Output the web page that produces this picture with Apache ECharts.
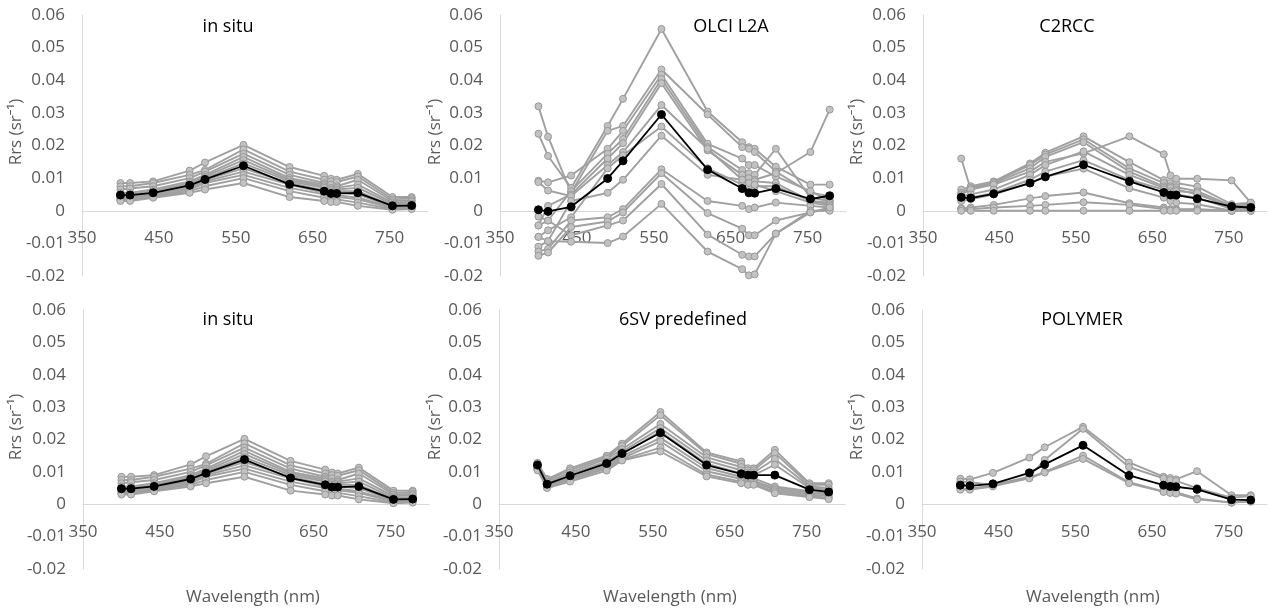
<!DOCTYPE html>
<html>
<head>
<meta charset="utf-8">
<script src="https://cdn.jsdelivr.net/npm/echarts@6/dist/echarts.min.js"></script>
<style>
html,body{margin:0;padding:0;background:#fff;}
#chart{width:1271px;height:615px;}
</style>
</head>
<body>
<div id="chart"></div>
<script>
// ---------- DATA ----------
const wavelengths = [400, 412.5, 442.5, 490, 510, 560, 620, 665, 673.75, 681.25, 708.75, 753.75, 778.75];

const xTicks = [350, 450, 550, 650, 750];
const yTicks = [-0.02, -0.01, 0, 0.01, 0.02, 0.03, 0.04, 0.05, 0.06];

const panelTitles = ['in situ', 'OLCI L2A', 'C2RCC', 'in situ', '6SV predefined', 'POLYMER'];

// in situ spectra (grey) and mean (black)
const insituGray = [
  [0.0085, 0.0085, 0.0090, 0.0123, 0.0148, 0.0202, 0.0134, 0.0107, 0.0098, 0.0095, 0.0113, 0.0042, 0.0042],
  [0.0075, 0.0075, 0.0085, 0.0110, 0.0125, 0.0188, 0.0120, 0.0095, 0.0090, 0.0088, 0.0105, 0.0035, 0.0038],
  [0.0065, 0.0068, 0.0075, 0.0100, 0.0120, 0.0175, 0.0110, 0.0085, 0.0080, 0.0075, 0.0095, 0.0030, 0.0032],
  [0.0055, 0.0055, 0.0065, 0.0090, 0.0110, 0.0165, 0.0100, 0.0080, 0.0070, 0.0070, 0.0080, 0.0025, 0.0028],
  [0.0050, 0.0050, 0.0060, 0.0085, 0.0105, 0.0155, 0.0095, 0.0075, 0.0065, 0.0065, 0.0070, 0.0020, 0.0022],
  [0.0045, 0.0045, 0.0055, 0.0080, 0.0100, 0.0145, 0.0090, 0.0070, 0.0060, 0.0060, 0.0060, 0.0015, 0.0018],
  [0.0040, 0.0042, 0.0050, 0.0075, 0.0095, 0.0130, 0.0085, 0.0062, 0.0055, 0.0055, 0.0050, 0.0012, 0.0015],
  [0.0038, 0.0040, 0.0048, 0.0070, 0.0090, 0.0120, 0.0080, 0.0055, 0.0050, 0.0048, 0.0040, 0.0010, 0.0012],
  [0.0035, 0.0035, 0.0045, 0.0065, 0.0085, 0.0110, 0.0070, 0.0050, 0.0045, 0.0043, 0.0035, 0.0008, 0.0010],
  [0.0032, 0.0032, 0.0042, 0.0060, 0.0075, 0.0100, 0.0060, 0.0040, 0.0035, 0.0035, 0.0025, 0.0005, 0.0008],
  [0.0030, 0.0030, 0.0040, 0.0055, 0.0065, 0.0085, 0.0042, 0.0030, 0.0027, 0.0027, 0.0015, 0.0003, 0.0005]
];
const insituMean = [0.0048, 0.0048, 0.0055, 0.0078, 0.0096, 0.0138, 0.0081, 0.0060, 0.0053, 0.0053, 0.0055, 0.0015, 0.0016];

// OLCI L2A
const olciGray = [
  [0.0236, 0.0168, 0.0070, 0.0260, 0.0343, 0.0557, 0.0304, 0.0210, 0.0195, 0.0190, 0.0135, 0.0080, 0.0080],
  [0.0320, 0.0227, 0.0055, 0.0245, 0.0260, 0.0433, 0.0295, 0.0195, 0.0190, 0.0180, 0.0120, 0.0055, 0.0045],
  [0.0092, 0.0087, 0.0108, 0.0190, 0.0245, 0.0417, 0.0205, 0.0160, 0.0140, 0.0140, 0.0105, 0.0060, 0.0030],
  [-0.0018, -0.0030, 0.0060, 0.0175, 0.0220, 0.0404, 0.0195, 0.0125, 0.0115, 0.0110, 0.0190, 0.0040, 0.0030],
  [-0.0045, 0.0015, 0.0050, 0.0160, 0.0207, 0.0391, 0.0185, 0.0110, 0.0100, 0.0095, 0.0115, 0.0180, 0.0310],
  [0.0088, 0.0062, 0.0045, 0.0140, 0.0180, 0.0324, 0.0190, 0.0095, 0.0085, 0.0090, 0.0085, 0.0030, 0.0025],
  [-0.0080, -0.0060, -0.0020, 0.0130, 0.0170, 0.0258, 0.0130, 0.0080, 0.0075, 0.0075, 0.0075, 0.0030, 0.0020],
  [-0.0110, -0.0093, 0.0030, 0.0055, 0.0095, 0.0230, 0.0110, 0.0095, 0.0085, 0.0080, 0.0060, 0.0025, 0.0015],
  [-0.0125, -0.0117, -0.0030, -0.0020, 0.0005, 0.0127, 0.0030, 0.0015, 0.0005, 0.0010, 0.0025, 0.0015, 0.0010],
  [-0.0138, -0.0128, -0.0050, -0.0033, -0.0005, 0.0115, -0.0007, -0.0055, -0.0075, -0.0075, -0.0030, -0.0005, 0.0005],
  [-0.0045, -0.0030, -0.0075, -0.0045, -0.0030, 0.0082, -0.0073, -0.0135, -0.0140, -0.0140, -0.0070, 0.0000, 0.0000],
  [-0.0080, -0.0093, -0.0095, -0.0099, -0.0079, 0.0021, -0.0125, -0.0179, -0.0198, -0.0195, -0.0070, -0.0005, 0.0010]
];
const olciMean = [0.0003, -0.0002, 0.0012, 0.0099, 0.0153, 0.0295, 0.0126, 0.0068, 0.0055, 0.0054, 0.0068, 0.0036, 0.0046];

// C2RCC
const c2rccGray = [
  [0.0065, 0.0075, 0.0090, 0.0145, 0.0178, 0.0228, 0.0149, 0.0094, 0.0085, 0.0085, 0.0074, 0.0020, 0.0025],
  [0.0055, 0.0070, 0.0088, 0.0140, 0.0172, 0.0219, 0.0130, 0.0085, 0.0075, 0.0072, 0.0060, 0.0015, 0.0020],
  [0.0050, 0.0065, 0.0085, 0.0130, 0.0165, 0.0210, 0.0120, 0.0075, 0.0070, 0.0065, 0.0050, 0.0012, 0.0015],
  [0.0160, 0.0065, 0.0080, 0.0120, 0.0150, 0.0176, 0.0228, 0.0173, 0.0108, 0.0098, 0.0098, 0.0093, 0.0025],
  [0.0045, 0.0050, 0.0065, 0.0110, 0.0140, 0.0182, 0.0110, 0.0070, 0.0060, 0.0060, 0.0055, 0.0008, 0.0010],
  [0.0035, 0.0040, 0.0055, 0.0095, 0.0120, 0.0155, 0.0095, 0.0065, 0.0055, 0.0050, 0.0040, 0.0005, 0.0008],
  [0.0030, 0.0035, 0.0050, 0.0085, 0.0105, 0.0129, 0.0069, 0.0040, 0.0030, 0.0025, 0.0020, 0.0000, 0.0005],
  [0.0008, 0.0010, 0.0018, 0.0038, 0.0045, 0.0056, 0.0023, 0.0010, 0.0005, 0.0005, 0.0005, 0.0000, 0.0000],
  [0.0005, 0.0005, 0.0010, 0.0015, 0.0018, 0.0026, 0.0018, 0.0005, 0.0003, 0.0003, 0.0003, 0.0000, 0.0000],
  [0.0000, 0.0000, 0.0000, 0.0000, 0.0000, 0.0000, 0.0000, 0.0000, 0.0000, 0.0000, 0.0000, 0.0000, 0.0000]
];
const c2rccMean = [0.0041, 0.0039, 0.0052, 0.0085, 0.0104, 0.0141, 0.0090, 0.0056, 0.0048, 0.0048, 0.0037, 0.0013, 0.0010];

// 6SV predefined
const sixsvGray = [
  [0.0128, 0.0078, 0.0111, 0.0150, 0.0187, 0.0285, 0.0160, 0.0132, 0.0111, 0.0111, 0.0168, 0.0065, 0.0065],
  [0.0125, 0.0075, 0.0105, 0.0145, 0.0180, 0.0275, 0.0155, 0.0125, 0.0105, 0.0105, 0.0158, 0.0060, 0.0060],
  [0.0120, 0.0070, 0.0098, 0.0140, 0.0170, 0.0248, 0.0145, 0.0115, 0.0098, 0.0098, 0.0140, 0.0055, 0.0050],
  [0.0118, 0.0065, 0.0092, 0.0132, 0.0162, 0.0235, 0.0135, 0.0105, 0.0090, 0.0090, 0.0122, 0.0050, 0.0045],
  [0.0115, 0.0060, 0.0088, 0.0125, 0.0155, 0.0225, 0.0125, 0.0095, 0.0082, 0.0080, 0.0055, 0.0040, 0.0035],
  [0.0112, 0.0058, 0.0082, 0.0120, 0.0148, 0.0205, 0.0112, 0.0085, 0.0075, 0.0072, 0.0050, 0.0035, 0.0030],
  [0.0110, 0.0055, 0.0078, 0.0115, 0.0142, 0.0194, 0.0102, 0.0078, 0.0070, 0.0068, 0.0045, 0.0030, 0.0025],
  [0.0108, 0.0052, 0.0075, 0.0110, 0.0138, 0.0175, 0.0092, 0.0070, 0.0063, 0.0062, 0.0040, 0.0025, 0.0020],
  [0.0105, 0.0050, 0.0070, 0.0104, 0.0135, 0.0163, 0.0086, 0.0065, 0.0060, 0.0060, 0.0034, 0.0022, 0.0016]
];
const sixsvMean = [0.0121, 0.0062, 0.0088, 0.0126, 0.0157, 0.0221, 0.0121, 0.0094, 0.0090, 0.0090, 0.0090, 0.0045, 0.0038];

// POLYMER
const polymerGray = [
  [0.0079, 0.0077, 0.0097, 0.0144, 0.0176, 0.0239, 0.0129, 0.0085, 0.0081, 0.0077, 0.0102, 0.0028, 0.0028],
  [0.0070, 0.0068, 0.0060, 0.0085, 0.0137, 0.0233, 0.0115, 0.0080, 0.0075, 0.0072, 0.0050, 0.0020, 0.0025],
  [0.0048, 0.0048, 0.0058, 0.0082, 0.0100, 0.0150, 0.0068, 0.0040, 0.0038, 0.0037, 0.0018, 0.0005, 0.0010],
  [0.0045, 0.0045, 0.0055, 0.0080, 0.0098, 0.0140, 0.0065, 0.0038, 0.0035, 0.0033, 0.0015, 0.0005, 0.0008]
];
const polymerMean = [0.0059, 0.0057, 0.0063, 0.0097, 0.0123, 0.0182, 0.0089, 0.0059, 0.0055, 0.0054, 0.0046, 0.0014, 0.0013];

const panelGray = [insituGray, olciGray, c2rccGray, insituGray, sixsvGray, polymerGray];
const panelMean = [insituMean, olciMean, c2rccMean, insituMean, sixsvMean, polymerMean];

// ---------- LAYOUT ----------
const Y_MIN = -0.02, Y_MAX = 0.06;
const grids = [
  {left: 82,  top: 15,  width: 346, height: 261},
  {left: 500, top: 15,  width: 346, height: 261},
  {left: 923, top: 15,  width: 344, height: 261},
  {left: 83,  top: 310, width: 346, height: 259},
  {left: 499, top: 310, width: 346, height: 259},
  {left: 922, top: 310, width: 345, height: 259}
];
const titlePos = [[228, 27], [731, 27], [1067, 27], [228, 320], [683, 320], [1082, 320]];
const yNamePos = [[16, 132], [435, 132], [857, 132], [16, 427], [435, 427], [857, 427]];
const xNamePos = [[253, 597], [670, 597], [1093, 597]];

const FONT = "'Open Sans', 'Noto Sans', sans-serif";
const GREY_TXT = '#595959';
const AXIS_LINE = '#d9d9d9';

function pairs(vals) { return wavelengths.map((w, i) => [w, vals[i]]); }

const xAxes = [], yAxes = [], series = [], graphics = [];
grids.forEach((g, i) => {
  // x axis drawn across y = 0 (the axis moves up from the grid bottom by the height of the negative range)
  const zeroOffset = g.height * (0 - Y_MIN) / (Y_MAX - Y_MIN);
  xAxes.push({
    type: 'value', gridIndex: i, min: 350, max: 800, interval: 100,
    position: 'bottom', offset: -zeroOffset,
    axisLine: {show: true, onZero: false, lineStyle: {color: AXIS_LINE, width: 1}},
    axisTick: {show: false}, splitLine: {show: false},
    axisLabel: {
      color: GREY_TXT, fontSize: 17, fontFamily: FONT, margin: 19, showMaxLabel: false,
      formatter: v => (xTicks.indexOf(v) >= 0 ? String(v) : '')
    }
  });
  yAxes.push({
    type: 'value', gridIndex: i, min: Y_MIN, max: Y_MAX, interval: 0.01,
    axisLine: {show: true, lineStyle: {color: AXIS_LINE, width: 1}},
    axisTick: {show: false}, splitLine: {show: false},
    axisLabel: {
      color: GREY_TXT, fontSize: 17, fontFamily: FONT, margin: 17,
      formatter: v => {
        const r = Math.round(v * 100) / 100;
        const t = yTicks.find(k => Math.abs(k - r) < 1e-9);
        return t === undefined ? '' : (t === 0 ? '0' : t.toFixed(2));
      }
    }
  });
  panelGray[i].forEach((vals) => {
    series.push({
      type: 'line', xAxisIndex: i, yAxisIndex: i, data: pairs(vals),
      symbol: 'circle', symbolSize: 7, z: 2,
      lineStyle: {color: '#a0a0a0', width: 1.9},
      itemStyle: {color: '#c2c2c2', borderColor: '#999999', borderWidth: 1},
      emphasis: {disabled: true}
    });
  });
  series.push({
    type: 'line', xAxisIndex: i, yAxisIndex: i, data: pairs(panelMean[i]),
    symbol: 'circle', symbolSize: 8, z: 5,
    lineStyle: {color: '#000000', width: 1.8},
    itemStyle: {color: '#000000', borderColor: '#000000', borderWidth: 1},
    emphasis: {disabled: true}
  });
  graphics.push({
    type: 'text', x: titlePos[i][0], y: titlePos[i][1], z: 10,
    style: {text: panelTitles[i], fill: '#000000', fontSize: 18, fontFamily: FONT, align: 'center', verticalAlign: 'middle'}
  });
  graphics.push({
    type: 'text', x: yNamePos[i][0], y: yNamePos[i][1], rotation: Math.PI / 2, z: 10,
    style: {text: 'Rrs (sr\u207B\u00B9)', fill: GREY_TXT, fontSize: 17, fontFamily: FONT, align: 'center', verticalAlign: 'middle'}
  });
});
xNamePos.forEach(p => {
  graphics.push({
    type: 'text', x: p[0], y: p[1], z: 10,
    style: {text: 'Wavelength (nm)', fill: GREY_TXT, fontSize: 17, fontFamily: FONT, align: 'center', verticalAlign: 'middle'}
  });
});

const chart = echarts.init(document.getElementById('chart'), null, {renderer: 'canvas'});
chart.setOption({
  animation: false,
  backgroundColor: '#ffffff',
  grid: grids,
  xAxis: xAxes,
  yAxis: yAxes,
  series: series,
  graphic: graphics
});
</script>
</body>
</html>
